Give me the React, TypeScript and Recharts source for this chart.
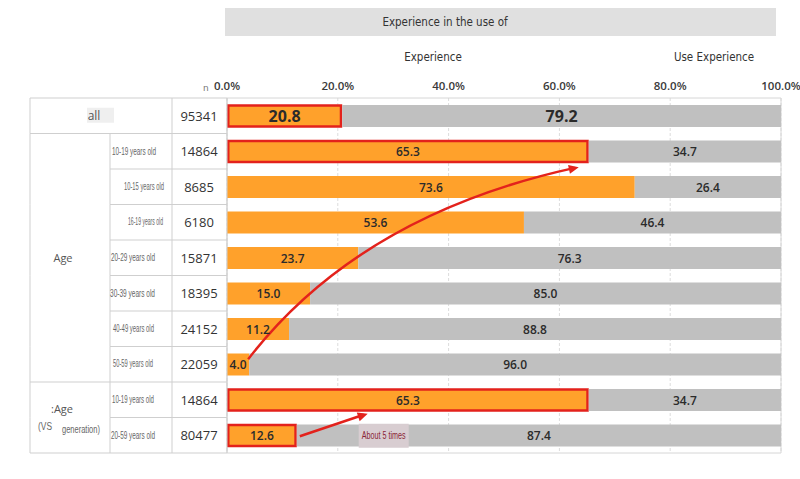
import React from "react";
import { BarChart, Bar, XAxis, YAxis, CartesianGrid, LabelList, ReferenceLine, ReferenceArea } from "recharts";

const rowIds = ["all", "a1019", "a1015", "a1619", "a2029", "a3039", "a4049", "a5059", "g1019", "g2059"];
const rowLabels = [
  "all",
  "10-19 years old",
  "10-15 years old",
  "16-19 years old",
  "20-29 years old",
  "30-39 years old",
  "40-49 years old",
  "50-59 years old",
  "10-19 years old",
  "20-59 years old",
];
const sampleSizes = [95341, 14864, 8685, 6180, 15871, 18395, 24152, 22059, 14864, 80477];
const experienced = [20.8, 65.3, 73.6, 53.6, 23.7, 15.0, 11.2, 4.0, 65.3, 12.6];
const notExperienced = [79.2, 34.7, 26.4, 46.4, 76.3, 85.0, 88.8, 96.0, 34.7, 87.4];
const highlighted = ["all", "a1019", "g1019", "g2059"];
const xTicks = [0, 20, 40, 60, 80, 100];

const data = rowIds.map((id, i) => ({ id, exp: experienced[i], none: notExperienced[i] }));

const W = 800;
const H = 479;
const PLOT_TOP = 98;
const PLOT_BOTTOM = 453;
const ROW_H = (PLOT_BOTTOM - PLOT_TOP) / rowIds.length;
const COL_LEFT = 30;
const COL_SUB = 110;
const COL_N = 172;
const COL_PLOT = 227;
// irregular indents / squeezed widths of the sub labels, as in the source table
const subIndent = [0, 1, 13, 17, 0, -1, 2, 2, 1, 0];
const subWidth = [0, 44, 40, 35, 44, 45, 41, 40, 42, 44];

const ORANGE = "#FFA12B";
const GREY = "#C0C0C0";
const RED = "#E3221C";
const LINE = "#cfcfcf";
const NARROW_FACE = "Liberation Sans";
const NARROW = "'Liberation Sans Narrow', 'DejaVu Sans', sans-serif";
const NUM = "'Open Sans', 'DejaVu Sans', sans-serif";

let measureCtx: CanvasRenderingContext2D | null = null;
function textWidth(text: string, size: number) {
  if (!measureCtx) measureCtx = document.createElement("canvas").getContext("2d");
  if (!measureCtx) return text.length * size * 0.5;
  measureCtx.font = `${size}px '${NARROW_FACE}'`;
  return measureCtx.measureText(text).width;
}

// condensed-looking text: regular face squeezed horizontally to a target width
function Squeezed({ x, y, text, width, size, fill }: any) {
  const sx = width / textWidth(text, size);
  return (
    <text
      transform={`translate(${x},${y}) scale(${sx},1)`}
      dominantBaseline="central"
      fontSize={size}
      fill={fill}
      fontFamily={`'${NARROW_FACE}', sans-serif`}
    >
      {text}
    </text>
  );
}

function RowTick(props: any) {
  const { y, payload } = props;
  const i = rowIds.indexOf(payload.value);
  const top = y - ROW_H / 2;
  const bot = y + ROW_H / 2;
  const groupStart = i === 0 || i === 1 || i === 8;
  return (
    <g>
      <line x1={groupStart ? COL_LEFT : COL_SUB} x2={COL_PLOT} y1={top} y2={top} stroke={LINE} />
      {i === rowIds.length - 1 && <line x1={COL_LEFT} x2={COL_PLOT} y1={bot} y2={bot} stroke={LINE} />}
      <line x1={COL_LEFT} x2={COL_LEFT} y1={top} y2={bot} stroke={LINE} />
      {i > 0 && <line x1={COL_SUB} x2={COL_SUB} y1={top} y2={bot} stroke={LINE} />}
      <line x1={COL_N} x2={COL_N} y1={top} y2={bot} stroke={LINE} />
      <line x1={COL_PLOT} x2={COL_PLOT} y1={top} y2={bot} stroke={LINE} />
      {i === 0 ? (
        <g>
          <rect x={87} y={y - 8} width={27} height={15} fill="#efefef" />
          <text x={94} y={y} textAnchor="middle" dominantBaseline="central" fontSize={12} fill="#555" fontFamily={NUM}>
            {rowLabels[i]}
          </text>
        </g>
      ) : (
        <Squeezed x={COL_SUB + 1 + subIndent[i]} y={y} text={rowLabels[i]} width={subWidth[i]} size={10} fill="#666" />
      )}
      <text x={199} y={y} textAnchor="middle" dominantBaseline="central" fontSize={13} fill="#333" fontFamily={NUM}>
        {sampleSizes[i]}
      </text>
      {i === 1 && (
        <text x={63} y={y + 3 * ROW_H} textAnchor="middle" dominantBaseline="central" fontSize={11} fill="#555" fontFamily={NUM}>
          Age
        </text>
      )}
      {i === 8 && (
        <g>
          <text x={62} y={y + ROW_H / 2 - 9} textAnchor="middle" dominantBaseline="central" fontSize={11} fontFamily={NUM} fill="#555">
            :Age
          </text>
          <Squeezed x={38} y={y + ROW_H / 2 + 9} text="(VS" width={14} size={10} fill="#666" />
          <Squeezed x={62} y={y + ROW_H / 2 + 12} text="generation)" width={38} size={10} fill="#666" />
        </g>
      )}
    </g>
  );
}

function renderLabel(props: any) {
  const vb = props.viewBox && props.viewBox.width != null ? props.viewBox : props;
  const { x, y, width, height } = vb;
  const big = props.index === 0;
  return (
    <text
      x={x + width / 2}
      y={y + height / 2}
      textAnchor="middle"
      dominantBaseline="central"
      fontSize={big ? 16 : 12}
      fontWeight={big ? 700 : 600}
      fill="#2b2b2b"
      fontFamily={NUM}
    >
      {Number(props.value).toFixed(1)}
    </text>
  );
}

function ExpBar(props: any) {
  const { x, y, width, height, payload } = props;
  const hi = highlighted.includes(payload.id);
  if (!hi) return <rect x={x} y={y} width={width} height={height} fill={ORANGE} />;
  return <rect x={x + 1.25} y={y + 0.5} width={width - 2.5} height={height - 1} fill={ORANGE} stroke={RED} strokeWidth={2.5} />;
}

function arrowHead(tx: number, ty: number, dx: number, dy: number) {
  const len = Math.hypot(dx, dy);
  const ux = dx / len;
  const uy = dy / len;
  const l = 10;
  const w = 4.5;
  const bx = tx - ux * l;
  const by = ty - uy * l;
  return `M${tx},${ty} L${bx - uy * w},${by + ux * w} L${bx + uy * w},${by - ux * w} Z`;
}

function CurvedArrow(props: any) {
  const { x1, y1, x2, y2 } = props;
  const sx = x1 - 1;
  const sy = y1 - 5;
  const ex = x2 - 10;
  const ey = y2 + 16;
  const cx = sx + 0.336 * (ex - sx);
  const cy = sy + 0.75 * (ey - sy);
  return (
    <g>
      <path d={`M${sx},${sy} Q${cx},${cy} ${ex - 4},${ey + 0.6}`} fill="none" stroke={RED} strokeWidth={2.5} />
      <path d={arrowHead(ex, ey, ex - cx, ey - cy)} fill={RED} />
    </g>
  );
}

function StraightArrow(props: any) {
  const { x1, y1, x2, y2 } = props;
  const sx = x1 + 3;
  const sy = y1 + 1;
  const ex = x2;
  const ey = y2 + 14;
  return (
    <g>
      <line x1={sx} y1={sy} x2={ex - 4} y2={ey + 1} stroke={RED} strokeWidth={2.5} />
      <path d={arrowHead(ex, ey, ex - sx, ey - sy)} fill={RED} />
      <rect x={ex - 9} y={ey + 10} width={50} height={24} fill="#d8cdd1" />
      <Squeezed x={ex - 6} y={ey + 22} text="About 5 times" width={44} size={11} fill="#8a2535" />
    </g>
  );
}

function HeadText({ x, y, children }: any) {
  return (
    <div
      style={{
        position: "absolute",
        left: x,
        top: y,
        transform: "translate(-50%, -50%) scaleX(0.86)",
        whiteSpace: "nowrap",
        font: `12px ${NARROW}`,
        color: "#333",
      }}
    >
      {children}
    </div>
  );
}

export default function App() {
  return (
    <div style={{ position: "absolute", left: 0, top: 0, width: W, height: H, background: "#fff", overflow: "hidden" }}>
      <BarChart
        width={W}
        height={H}
        data={data}
        layout="vertical"
        margin={{ top: PLOT_TOP - 30, right: W - 781, bottom: H - PLOT_BOTTOM, left: COL_LEFT }}
        barSize={22}
      >
        <CartesianGrid horizontal={false} vertical stroke="#dcdcdc" strokeDasharray="3 2" />
        <ReferenceArea x1={0} x2={100} fill="none" stroke="#d6d6d6" ifOverflow="visible" />
        <XAxis
          type="number"
          orientation="top"
          domain={[0, 100]}
          ticks={xTicks}
          height={30}
          axisLine={false}
          tickLine={false}
          tickFormatter={(v: number) => `${v.toFixed(1)}%`}
          tick={{ fontSize: 11.5, fill: "#3a3a3a", fontFamily: NUM, fontWeight: 600 }}
        />
        <YAxis type="category" dataKey="id" width={COL_PLOT - COL_LEFT} interval={0} axisLine={false} tickLine={false} tick={<RowTick />} />
        <Bar dataKey="exp" stackId="s" fill={ORANGE} shape={<ExpBar />} isAnimationActive={false}>
          <LabelList dataKey="exp" content={renderLabel} />
        </Bar>
        <Bar dataKey="none" stackId="s" fill={GREY} isAnimationActive={false}>
          <LabelList dataKey="none" content={renderLabel} />
        </Bar>
        <ReferenceLine
          segment={[
            { x: experienced[7], y: rowIds[7] },
            { x: experienced[1], y: rowIds[1] },
          ]}
          ifOverflow="visible"
          shape={CurvedArrow}
        />
        <ReferenceLine
          segment={[
            { x: experienced[9], y: rowIds[9] },
            { x: 25.4, y: rowIds[8] },
          ]}
          ifOverflow="visible"
          shape={StraightArrow}
        />
      </BarChart>
      <div style={{ position: "absolute", left: 225, top: 8, width: 551, height: 28, background: "#e0e0e0" }} />
      <HeadText x={445} y={22}>Experience in the use of</HeadText>
      <HeadText x={433} y={57}>Experience</HeadText>
      <HeadText x={714} y={57}>Use Experience</HeadText>
      <div style={{ position: "absolute", left: 203, top: 83, font: `9px ${NARROW}`, color: "#777" }}>n</div>
    </div>
  );
}
